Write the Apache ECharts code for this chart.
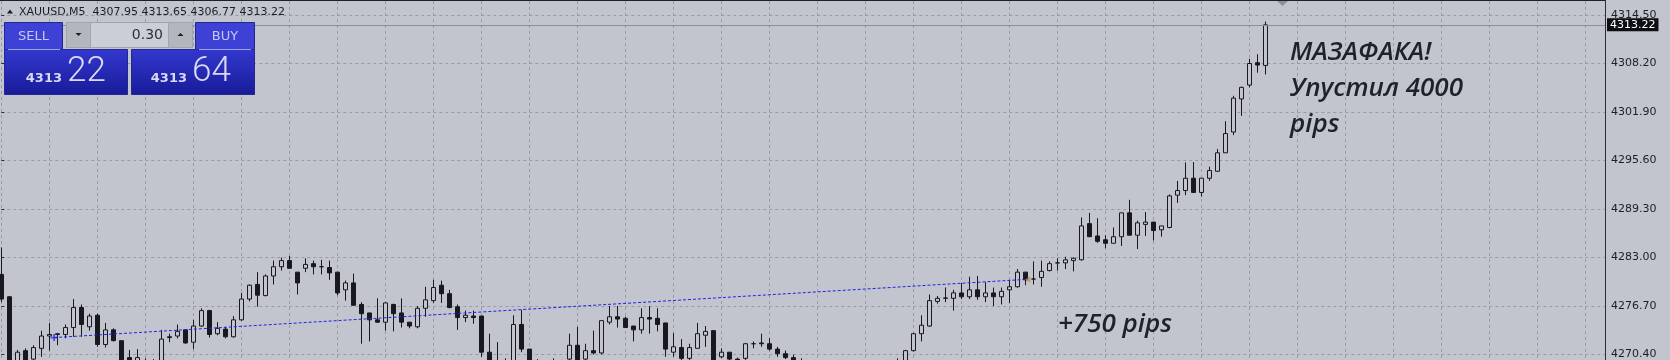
<!DOCTYPE html>
<html><head><meta charset="utf-8">
<script src="https://cdn.jsdelivr.net/npm/echarts@6/dist/echarts.min.js"></script>
<style>html,body{margin:0;padding:0;background:#c2c5cd;overflow:hidden}#c{width:1670px;height:360px}</style>
</head><body><div id="c"></div><script>
const symbol = 'XAUUSD';
const timeframe = 'M5';
// OHLC of the visible M5 bars, oldest first (bar 158 is the current bar)
const opens = [
4280.8,4277.9,4269.2,4270.9,4269.8,4271.2,4272.8,4273.0,4273.0,4273.9,
4276.5,4274.0,4275.5,4271.7,4273.6,4272.2,4270.0,4269.5,4269.6,4269.0,
4269.5,4272.7,4272.8,4273.6,4272.0,4274.1,4276.1,4273.1,4273.7,4272.7,
4274.9,4277.6,4279.5,4278.05,4280.6,4281.8,4282.6,4281.1,4281.6,4282.2,
4281.8,4281.7,4281.1,4278.8,4279.7,4276.9,4275.8,4274.9,4274.6,4276.9,
4275.8,4274.6,4274.0,4276.4,4277.4,4279.4,4278.3,4276.6,4275.2,4275.4,
4275.4,4270.7,4269.6,4269.0,4269.5,4274.3,4271.1,4269.0,4268.6,4269.2,
4268.8,4269.8,4271.6,4269.8,4270.9,4270.6,4274.6,4275.3,4275.1,4274.1,
4273.6,4275.2,4275.1,4274.5,4270.7,4271.3,4269.9,4271.2,4272.9,4273.5,
4270.1,4270.7,4269.8,4269.9,4271.8,4271.9,4271.8,4271.1,4270.5,4270.0,
4269.6,4268.5,4267.2,4266.0,4266.9,4267.5,4265.4,4265.9,4267.3,4266.9,
4268.5,4268.1,4269.0,4269.5,4270.9,4273.1,4274.1,4277.3,4277.7,4277.7,
4278.4,4277.9,4278.8,4277.9,4278.4,4277.9,4278.8,4279.2,4281.1,4280.2,
4280.4,4281.3,4282.3,4282.3,4282.6,4282.7,4287.4,4285.8,4285.3,4284.85,
4285.7,4288.8,4285.9,4287.3,4287.6,4286.6,4286.9,4291.1,4291.7,4293.3,
4291.45,4293.3,4294.2,4296.6,4299.3,4303.6,4305.4,4308.3,4307.95];
const highs = [
4284.3,4278.0,4271.0,4271.2,4271.6,4273.5,4274.5,4273.2,4274.3,4277.6,
4276.9,4275.7,4275.7,4274.5,4273.8,4272.2,4271.0,4271.1,4269.9,4269.8,
4273.6,4273.1,4274.3,4273.7,4274.9,4276.4,4276.2,4274.6,4274.0,4275.4,
4278.4,4279.5,4281.1,4280.8,4282.6,4283.0,4283.2,4281.1,4282.9,4282.6,
4282.7,4282.6,4281.1,4280.0,4280.9,4277.2,4275.8,4277.7,4277.2,4277.0,
4277.7,4274.6,4276.7,4279.2,4280.1,4280.0,4278.8,4276.9,4276.1,4276.1,
4275.4,4273.1,4272.0,4269.9,4275.5,4276.2,4271.1,4269.8,4269.5,4269.9,
4269.7,4273.1,4274.0,4271.8,4273.5,4274.8,4276.7,4276.7,4275.3,4274.1,
4276.4,4276.7,4276.4,4274.5,4273.2,4272.4,4271.8,4274.5,4274.1,4273.5,
4271.2,4270.7,4270.0,4271.9,4272.1,4273.1,4272.5,4271.4,4270.9,4270.4,
4269.9,4269.0,4267.9,4267.4,4268.1,4267.9,4266.3,4267.6,4268.4,4268.8,
4269.6,4269.3,4269.9,4271.0,4273.2,4275.5,4278.2,4278.0,4279.1,4278.8,
4279.7,4280.5,4280.6,4279.8,4279.1,4279.1,4280.1,4281.5,4281.1,4282.5,
4282.6,4282.5,4282.9,4283.1,4283.0,4288.2,4288.8,4288.1,4285.9,4286.9,
4288.8,4290.5,4287.8,4288.9,4287.6,4287.1,4291.2,4292.95,4295.35,4295.4,
4293.3,4294.8,4297.1,4300.7,4304.0,4305.2,4308.8,4309.4,4313.65];
const lows = [
4277.2,4268.3,4268.9,4269.0,4269.4,4270.1,4270.9,4271.6,4272.5,4272.7,
4272.7,4273.5,4271.4,4271.3,4272.1,4268.5,4268.7,4268.8,4268.5,4268.4,
4269.0,4272.0,4272.5,4271.8,4271.1,4274.0,4272.6,4272.9,4272.5,4272.6,
4274.8,4277.3,4276.6,4277.95,4279.5,4281.3,4281.5,4278.2,4281.1,4280.8,
4280.8,4280.1,4278.1,4277.4,4276.7,4271.8,4272.1,4274.5,4273.5,4273.4,
4273.9,4273.8,4273.8,4275.3,4277.1,4277.1,4276.4,4273.6,4274.6,4274.4,
4270.1,4268.8,4268.5,4268.6,4269.0,4270.7,4268.5,4268.2,4267.9,4268.4,
4268.3,4269.4,4269.3,4269.5,4270.4,4270.4,4274.3,4273.9,4273.9,4272.1,
4273.1,4273.1,4273.4,4270.1,4270.1,4269.6,4269.6,4271.2,4271.4,4269.0,
4269.9,4269.5,4269.2,4269.6,4271.2,4271.4,4270.9,4270.1,4269.8,4269.3,
4268.2,4266.8,4265.5,4265.1,4266.2,4265.0,4264.2,4265.5,4266.6,4266.5,
4267.8,4267.6,4268.6,4269.0,4270.8,4272.1,4274.0,4277.0,4277.2,4276.1,
4277.6,4277.6,4277.5,4277.2,4276.7,4276.9,4277.1,4279.1,4279.4,4279.5,
4279.2,4281.2,4281.3,4281.5,4281.2,4282.6,4285.7,4284.9,4284.2,4284.85,
4284.5,4285.9,4284.1,4285.8,4285.2,4285.7,4286.8,4290.1,4291.1,4291.45,
4290.9,4292.95,4294.15,4296.6,4298.9,4301.4,4305.1,4307.0,4306.77];
const closes = [
4277.6,4268.6,4270.7,4269.5,4271.3,4272.8,4273.0,4273.1,4273.9,4276.5,
4274.3,4275.4,4271.7,4273.6,4272.2,4269.0,4269.0,4270.0,4269.0,4269.5,
4272.4,4272.6,4273.4,4271.9,4274.1,4276.1,4273.0,4273.8,4272.7,4274.9,
4277.6,4279.4,4278.1,4280.6,4281.8,4282.6,4281.6,4279.7,4282.1,4281.8,
4281.8,4281.0,4278.4,4279.7,4276.8,4275.7,4274.9,4274.6,4277.1,4275.7,
4274.6,4274.1,4276.4,4277.5,4279.1,4278.3,4276.5,4275.2,4275.5,4275.2,
4270.7,4269.2,4269.0,4269.6,4274.3,4271.1,4269.0,4268.6,4269.2,4268.8,
4269.4,4271.6,4269.7,4270.9,4270.6,4274.8,4275.3,4275.0,4273.9,4273.6,
4275.2,4275.0,4274.3,4271.1,4271.4,4269.9,4271.3,4273.1,4273.4,4269.5,
4270.7,4269.8,4269.6,4271.8,4271.8,4271.8,4271.1,4270.5,4270.0,4269.6,
4268.5,4267.2,4266.0,4266.9,4267.5,4265.4,4265.9,4267.3,4266.9,4268.5,
4268.1,4269.0,4269.4,4270.9,4273.1,4274.2,4277.4,4277.7,4277.75,4278.4,
4277.9,4278.8,4277.9,4278.4,4277.9,4278.6,4279.2,4281.1,4280.1,4280.2,
4281.2,4282.2,4282.3,4282.7,4282.9,4287.1,4285.7,4285.1,4284.85,4285.7,
4288.8,4285.9,4287.5,4287.6,4286.5,4287.1,4291.0,4291.7,4293.3,4291.45,
4293.3,4294.3,4296.6,4299.1,4303.7,4305.1,4308.2,4308.0,4313.22];
// price scale (right axis labels)
const priceMin = 4270.40, priceMax = 4314.50, priceStep = 6.30;
// trend line (bar index, price) and quote panel values
const trendBars = [6.6, 128.0];
const trendPrices = [4272.6, 4280.15];
const bid = 4313.22, ask = 4313.64, lot = 0.30;
const barsInView = 200.4625;

const barIdx = opens.map((_, i) => i);
const candles = barIdx.map(i => [i, opens[i], closes[i], lows[i], highs[i]]);
const last = opens.length - 1;
const title = `${symbol},${timeframe}  ${opens[last].toFixed(2)} ${highs[last].toFixed(2)} ${lows[last].toFixed(2)} ${closes[last].toFixed(2)}`;
const [bidBig, bidSmall] = bid.toFixed(2).split('.');
const [askBig, askSmall] = ask.toFixed(2).split('.');

const BG = '#c2c5cd', INK = '#17191e', GRID = '#989ba3';
const FF = '"DejaVu Sans", sans-serif';
const NOTE_FONT = {fontFamily: '"Open Sans", sans-serif', fontStyle: 'italic', fontWeight: 600, fontSize: 26, lineHeight: 36, fill: '#1f2229', verticalAlign: 'top'};
const chart = echarts.init(document.getElementById('c'), null, {renderer: 'canvas', width: 1670, height: 360});
const blueGrad = new echarts.graphic.LinearGradient(0, 0, 0, 1, [{offset: 0, color: '#3338cf'}, {offset: 1, color: '#181b98'}]);
const panelText = '#d9daf5';
chart.setOption({
  animation: false,
  backgroundColor: BG,
  grid: [
    {left: 1.3, right: 65, top: 1, bottom: 0},
    {left: 1.3, right: 65, top: 15, bottom: 2}
  ],
  xAxis: [
    {gridIndex: 0, type: 'value', min: 0, max: barsInView, interval: 6,
     axisLine: {show: false}, axisTick: {show: false}, axisLabel: {show: false},
     splitLine: {show: true, lineStyle: {color: GRID, width: 1, type: [3, 3]}}},
    {gridIndex: 1, type: 'value', min: 0, max: barsInView, show: false, splitLine: {show: false}}
  ],
  yAxis: [
    {gridIndex: 0, type: 'value', min: 0, max: 1, show: false},
    {gridIndex: 1, type: 'value', position: 'right', min: priceMin, max: priceMax, interval: priceStep,
     axisLine: {show: false},
     axisTick: {show: true, length: 3, lineStyle: {color: '#2b2d33'}},
     axisLabel: {show: true, margin: 6, color: '#1c1e26', fontFamily: FF, fontSize: 11,
                 formatter: v => v.toFixed(2)},
     splitLine: {show: true, lineStyle: {color: GRID, width: 1, type: [3, 3]}}}
  ],
  series: [
    {type: 'candlestick', xAxisIndex: 1, yAxisIndex: 1, data: candles, encode: {x: 0, y: [1, 2, 3, 4]},
     barWidth: 4, clip: false, silent: true,
     itemStyle: {color: BG, color0: INK, borderColor: INK, borderColor0: INK, borderWidth: 1},
     markLine: {silent: true, symbol: ['none', 'none'], animation: false,
       lineStyle: {color: '#8b8e95', width: 1, type: 'solid'},
       label: {show: true, position: 'end', distance: 2, formatter: bid.toFixed(2),
               backgroundColor: '#0d0e12', color: '#ffffff', fontFamily: FF, fontSize: 11, padding: [1, 3, 1, 3]},
       emphasis: {disabled: true},
       data: [{yAxis: bid}]}},
    {type: 'line', xAxisIndex: 1, yAxisIndex: 1, silent: true, showSymbol: false,
     data: trendBars.map((b, i) => [b, trendPrices[i]]),
     lineStyle: {color: '#2023ea', width: 1, type: [3, 2]}},
    {type: 'scatter', xAxisIndex: 1, yAxisIndex: 1, silent: true,
     data: [[trendBars[0], trendPrices[0]]],
     symbol: 'path://M3,0H5V3H8V5H5V8H3V5H0V3H3Z', symbolSize: 7,
     itemStyle: {color: '#2430e0'}},
    {type: 'scatter', xAxisIndex: 1, yAxisIndex: 1, silent: true,
     data: [[trendBars[1] + 0.3, trendPrices[1]]],
     symbol: 'triangle', symbolSize: [6, 5], symbolRotate: 90,
     itemStyle: {color: '#c18b3d'}}
  ],
  graphic: [
    {type: 'rect', z: 50, shape: {x: 0, y: 0, width: 1605, height: 1}, style: {fill: '#1e2027'}},
    {type: 'line', z: 50, shape: {x1: 1605.5, y1: 0, x2: 1605.5, y2: 360}, style: {stroke: '#2b2d33', lineWidth: 1}},
    {type: 'polygon', z: 50, shape: {points: [[1277, 1], [1288, 1], [1282.5, 6]]}, style: {fill: '#8d9097'}},
    {type: 'polygon', z: 50, shape: {points: [[7, 13.5], [13, 13.5], [10, 9.5]]}, style: {fill: '#1c1e26'}},
    {type: 'text', z: 50, x: 19, y: 12, style: {text: title, fontFamily: FF, fontSize: 11, fill: '#1c1e26', verticalAlign: 'middle'}},
    // SELL block
    {type: 'rect', z: 50, shape: {x: 4.5, y: 49.5, width: 123, height: 45}, style: {fill: blueGrad, stroke: '#24278f', lineWidth: 1}},
    {type: 'rect', z: 51, shape: {x: 4.5, y: 22.5, width: 58, height: 27}, style: {fill: '#3d41d5', stroke: '#24278f', lineWidth: 1}},
    {type: 'line', z: 52, shape: {x1: 8, y1: 49.5, x2: 60, y2: 49.5}, style: {stroke: '#9ea2ea', lineWidth: 1}},
    {type: 'text', z: 52, x: 33.5, y: 36.5, style: {text: 'SELL', fontFamily: FF, fontSize: 13, fill: '#c6c8f0', align: 'center', verticalAlign: 'middle'}},
    {type: 'text', z: 52, x: 62, y: 78.5, style: {text: bidBig, fontFamily: FF, fontWeight: 'bold', fontSize: 13, fill: panelText, align: 'right', verticalAlign: 'middle'}},
    {type: 'text', z: 52, x: 67, y: 72, style: {text: bidSmall, fontFamily: 'Roboto, sans-serif', fontWeight: 300, fontSize: 35, fill: panelText, align: 'left', verticalAlign: 'middle'}},
    // lot field
    {type: 'rect', z: 50, shape: {x: 66.5, y: 22.5, width: 126, height: 25}, style: {fill: '#cbced6', stroke: '#a2a5ad', lineWidth: 1}},
    {type: 'rect', z: 51, shape: {x: 66.5, y: 22.5, width: 24, height: 25}, style: {fill: '#b3b6bd', stroke: '#a2a5ad', lineWidth: 1}},
    {type: 'rect', z: 51, shape: {x: 168.5, y: 22.5, width: 24, height: 25}, style: {fill: '#b3b6bd', stroke: '#a2a5ad', lineWidth: 1}},
    {type: 'polygon', z: 52, shape: {points: [[75.5, 33], [81.5, 33], [78.5, 36]]}, style: {fill: '#1c1e24'}},
    {type: 'polygon', z: 52, shape: {points: [[177.5, 36], [183.5, 36], [180.5, 33]]}, style: {fill: '#1c1e24'}},
    {type: 'text', z: 52, x: 163, y: 35, style: {text: lot.toFixed(2), fontFamily: FF, fontSize: 14, fill: '#2d2f36', align: 'right', verticalAlign: 'middle'}},
    // BUY block
    {type: 'rect', z: 50, shape: {x: 131.5, y: 49.5, width: 123, height: 45}, style: {fill: blueGrad, stroke: '#24278f', lineWidth: 1}},
    {type: 'rect', z: 51, shape: {x: 195.5, y: 22.5, width: 59, height: 27}, style: {fill: '#3d41d5', stroke: '#24278f', lineWidth: 1}},
    {type: 'line', z: 52, shape: {x1: 199, y1: 49.5, x2: 251, y2: 49.5}, style: {stroke: '#9ea2ea', lineWidth: 1}},
    {type: 'text', z: 52, x: 225, y: 36.5, style: {text: 'BUY', fontFamily: FF, fontSize: 13, fill: '#c6c8f0', align: 'center', verticalAlign: 'middle'}},
    {type: 'text', z: 52, x: 187, y: 78.5, style: {text: askBig, fontFamily: FF, fontWeight: 'bold', fontSize: 13, fill: panelText, align: 'right', verticalAlign: 'middle'}},
    {type: 'text', z: 52, x: 192, y: 72, style: {text: askSmall, fontFamily: 'Roboto, sans-serif', fontWeight: 300, fontSize: 35, fill: panelText, align: 'left', verticalAlign: 'middle'}},
    // annotations
    {type: 'text', z: 60, x: 1290, y: 35, style: Object.assign({text: 'МАЗАФАКА!\nУпустил 4000\npips'}, NOTE_FONT)},
    {type: 'text', z: 60, x: 1058, y: 307, style: Object.assign({text: '+750 pips'}, NOTE_FONT)}
  ]
});
</script></body></html>
